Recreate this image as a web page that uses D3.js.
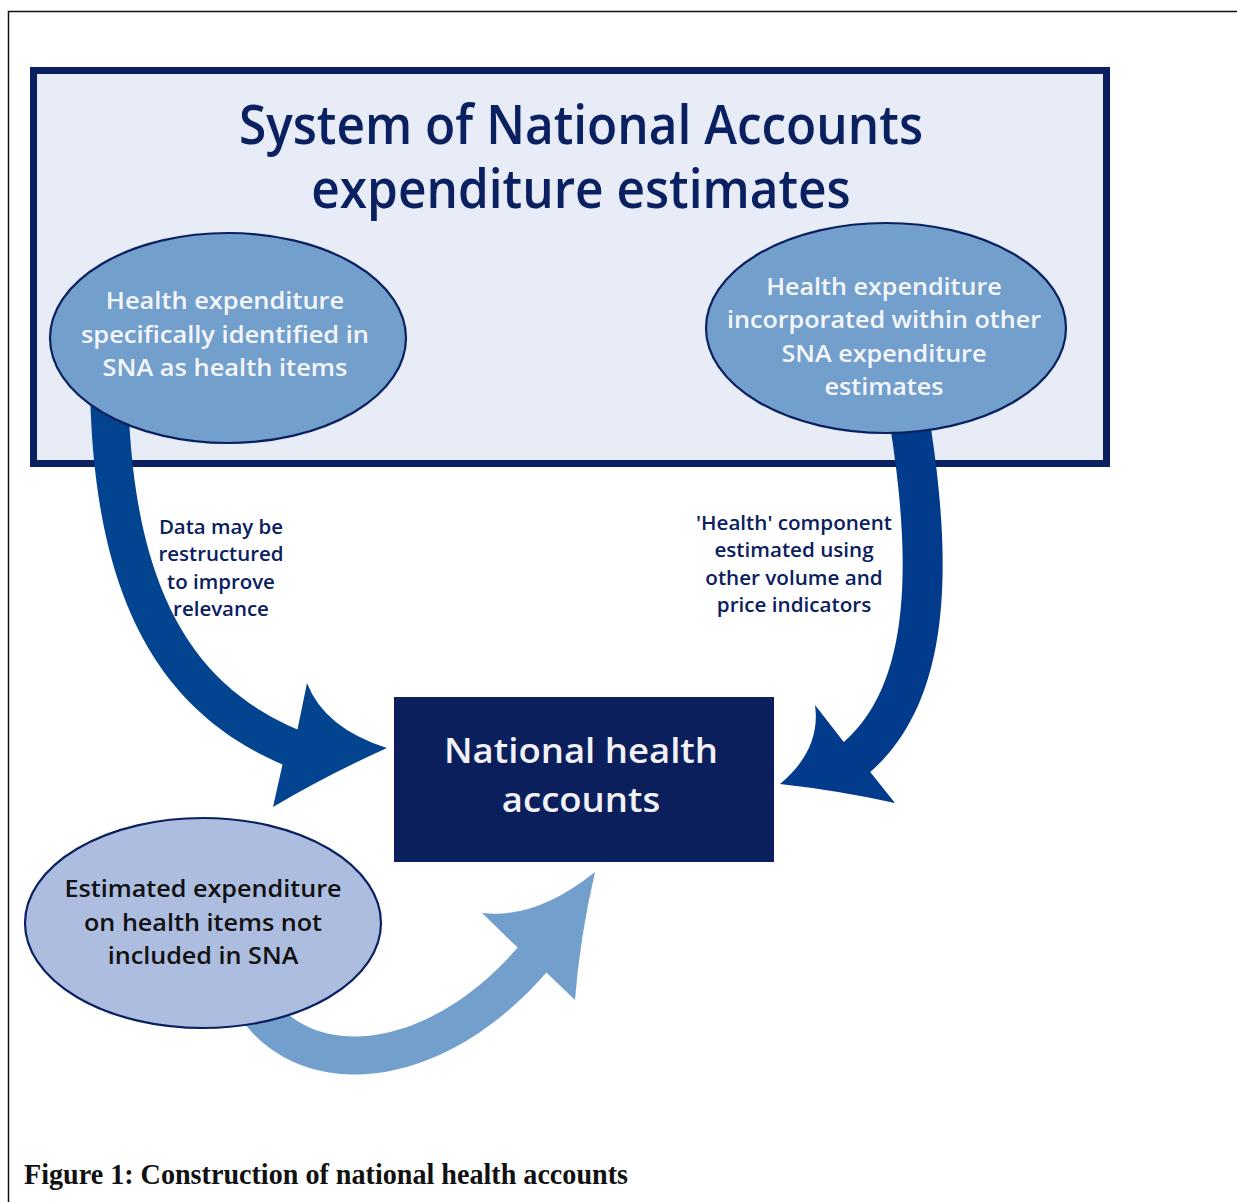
<!DOCTYPE html>
<html>
<head>
<meta charset="utf-8">
<title>Construction of national health accounts</title>
<script src="https://cdn.jsdelivr.net/npm/d3@7"></script>
<style>
  body { margin: 0; background: #fff; }
  svg { display: block; }
  text { font-family: "Open Sans", "Noto Sans", sans-serif; font-weight: 600; }
</style>
</head>
<body>
<svg width="1237" height="1202"></svg>
<script>
// --- diagram content ---
const titleLines = ["System of National Accounts", "expenditure estimates"];
const identifiedLines = ["Health expenditure", "specifically identified in", "SNA as health items"];
const incorporatedLines = ["Health expenditure", "incorporated within other", "SNA expenditure", "estimates"];
const notIncludedLines = ["Estimated expenditure", "on health items not", "included in SNA"];
const targetLines = ["National health", "accounts"];
const leftNoteLines = ["Data may be", "restructured", "to improve", "relevance"];
const rightNoteLines = ["'Health' component", "estimated using", "other volume and", "price indicators"];
const caption = "Figure 1: Construction of national health accounts";

// --- layout ---
const navy = "#0a2060";
const ellipses = [
  { key: "identified", cx: 228, cy: 338, rx: 178, ry: 105, fill: "#739fcc" },
  { key: "incorporated", cx: 886, cy: 328, rx: 180, ry: 105, fill: "#739fcc" },
  { key: "notIncluded", cx: 203, cy: 923, rx: 178, ry: 105, fill: "#adbde0" }
];
const arrows = [
  { key: "left", fill: "#02448f", width: 38,
    shaft: [[109, 385], [112, 600], [180, 700], [290, 747]],
    plusBarb: [273, 807], tip: [387, 748], minusBarb: [307, 683], bendPlus: 0.08, bendMinus: 0.4 },
  { key: "right", fill: "#023b8c", width: 40,
    shaft: [[907, 405], [933, 560], [933, 690], [857, 757]],
    plusBarb: [815, 705], tip: [780, 784], minusBarb: [895, 803], bendPlus: 0.4, bendMinus: 0.08 },
  { key: "bottom", fill: "#739fcc", width: 38,
    shaft: [[246, 990], [292, 1085], [430, 1078], [532, 960]],
    plusBarb: [575, 1000], tip: [595, 872], minusBarb: [482, 913], bendPlus: 0.1, bendMinus: 0.4 }
];
const textBlocks = [
  { lines: titleLines, x: 581, y: 144, lh: 64, size: 54, fill: navy, width: 684 },
  { lines: identifiedLines, x: 225, y: 309, lh: 33.5, size: 23, fill: "#f4f6fb", width: 288 },
  { lines: incorporatedLines, x: 884, y: 295, lh: 33.3, size: 23, fill: "#f4f6fb", width: 314 },
  { lines: notIncludedLines, x: 203, y: 897, lh: 33.5, size: 23, fill: "#111", width: 277 },
  { lines: targetLines, x: 581, y: 763, lh: 49, size: 35, fill: "#f2f2f6", width: 274 },
  { lines: leftNoteLines, x: 221, y: 534, lh: 27.3, size: 20, fill: navy, width: 125 },
  { lines: rightNoteLines, x: 794, y: 530, lh: 27.3, size: 20, fill: navy, width: 196 }
];

const svg = d3.select("svg");

// outer frame
svg.append("path")
  .attr("d", "M8.5,1202V11.5H1237")
  .attr("fill", "none").attr("stroke", "#111").attr("stroke-width", 1.5);

// SNA box
svg.append("rect")
  .attr("x", 33.5).attr("y", 70.5).attr("width", 1073).attr("height", 393)
  .attr("fill", "#e8ecf7").attr("stroke", navy).attr("stroke-width", 7);

// arrows: cubic shaft offset to a band + shark-fin head
function bez(p, t) {
  const u = 1 - t;
  return [0, 1].map(i => u*u*u*p[0][i] + 3*u*u*t*p[1][i] + 3*u*t*t*p[2][i] + t*t*t*p[3][i]);
}
function bezD(p, t) {
  const u = 1 - t;
  return [0, 1].map(i => 3*(u*u*(p[1][i]-p[0][i]) + 2*u*t*(p[2][i]-p[1][i]) + t*t*(p[3][i]-p[2][i])));
}
function arrowPath(a) {
  const n = 60, plus = [], minus = [];
  for (let k = 0; k <= n; k++) {
    const t = k / n, c = bez(a.shaft, t), d = bezD(a.shaft, t);
    const len = Math.hypot(d[0], d[1]), nx = -d[1] / len, ny = d[0] / len, h = a.width / 2;
    plus.push([c[0] + nx*h, c[1] + ny*h]);
    minus.push([c[0] - nx*h, c[1] - ny*h]);
  }
  const e = a.shaft[3];
  const ctrl = (p, q, k) => {
    const m = [(p[0]+q[0])/2, (p[1]+q[1])/2];
    return [m[0] + k*(e[0]-m[0]), m[1] + k*(e[1]-m[1])];
  };
  const p = d3.path();
  p.moveTo(...plus[0]);
  plus.slice(1).forEach(q => p.lineTo(...q));
  p.lineTo(...a.plusBarb);
  p.quadraticCurveTo(...ctrl(a.plusBarb, a.tip, a.bendPlus), ...a.tip);
  p.quadraticCurveTo(...ctrl(a.tip, a.minusBarb, a.bendMinus), ...a.minusBarb);
  minus.slice().reverse().forEach(q => p.lineTo(...q));
  p.closePath();
  return p.toString();
}
svg.append("g").selectAll("path").data(arrows).join("path")
  .attr("d", arrowPath).attr("fill", d => d.fill);

// ellipses
svg.append("g").selectAll("ellipse").data(ellipses).join("ellipse")
  .attr("cx", d => d.cx).attr("cy", d => d.cy).attr("rx", d => d.rx).attr("ry", d => d.ry)
  .attr("fill", d => d.fill).attr("stroke", navy).attr("stroke-width", 2.2);

// national health accounts box
svg.append("rect")
  .attr("x", 394).attr("y", 697).attr("width", 380).attr("height", 165)
  .attr("fill", "#0a1f5c");

// text blocks, condensed to the reference widths
textBlocks.forEach(b => {
  const sel = svg.append("g").selectAll("text").data(b.lines).join("text")
    .attr("x", b.x).attr("y", (d, i) => b.y + i * b.lh)
    .attr("text-anchor", "middle").attr("font-size", b.size).attr("fill", b.fill)
    .text(d => d);
  const lens = sel.nodes().map(n => n.getComputedTextLength());
  const k = b.width / d3.max(lens);
  sel.attr("textLength", (d, i) => lens[i] * k).attr("lengthAdjust", "spacingAndGlyphs");
});

// caption
svg.append("text")
  .attr("x", 24).attr("y", 1184)
  .attr("font-size", 30).attr("fill", "#111")
  .style("font-family", "'Liberation Serif', 'DejaVu Serif', serif").style("font-weight", 700)
  .attr("textLength", 604).attr("lengthAdjust", "spacingAndGlyphs")
  .text(caption);
</script>
</body>
</html>
